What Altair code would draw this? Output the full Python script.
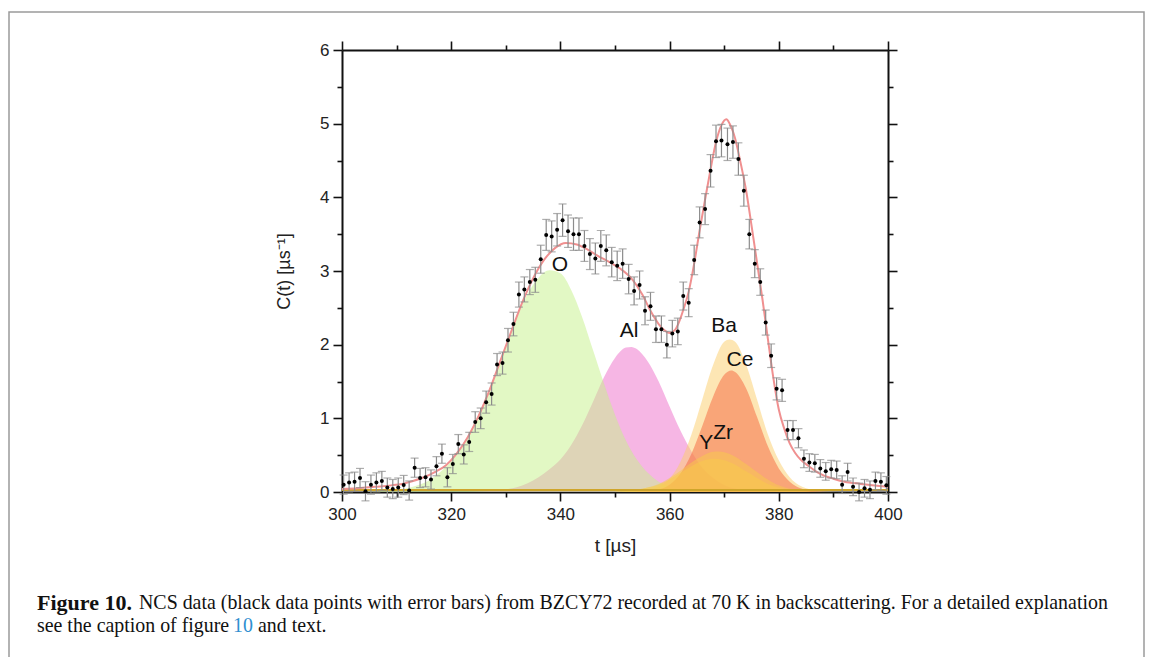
import altair as alt
import pandas as pd

# ---------------- data ----------------
t_data = [300.3, 301.3, 302.3, 303.3, 304.3, 305.3, 306.3, 307.3, 308.3, 309.3,
          310.3, 311.3, 312.3, 313.3, 314.3, 315.3, 316.3, 317.3, 318.3, 319.3,
          320.3, 321.3, 322.3, 323.3, 324.4, 325.4, 326.4, 327.4, 328.4, 329.4,
          330.4, 331.4, 332.4, 333.4, 334.4, 335.4, 336.4, 337.4, 338.4, 339.4,
          340.4, 341.4, 342.4, 343.4, 344.4, 345.4, 346.4, 347.4, 348.4, 349.4,
          350.4, 351.4, 352.5, 353.5, 354.5, 355.5, 356.5, 357.5, 358.5, 359.5,
          360.5, 361.5, 362.5, 363.5, 364.5, 365.5, 366.5, 367.5, 368.5, 369.5,
          370.6, 371.6, 372.6, 373.6, 374.6, 375.6, 376.6, 377.6, 378.6, 379.6,
          380.6, 381.6, 382.6, 383.6, 384.6, 385.6, 386.6, 387.6, 388.6, 389.6,
          390.6, 391.6, 392.6, 393.6, 394.7, 395.7, 396.7, 397.7, 398.7, 399.7]
c_data = [0.10, 0.13, 0.14, 0.19, 0.01, 0.10, 0.13, 0.15, 0.06, 0.04,
          0.06, 0.095, 0.02, 0.33, 0.19, 0.20, 0.17, 0.35, 0.52, 0.20,
          0.38, 0.65, 0.51, 0.68, 0.95, 1.00, 1.22, 1.33, 1.73, 1.75,
          2.06, 2.28, 2.68, 2.75, 2.85, 2.88, 3.16, 3.49, 3.47, 3.56,
          3.69, 3.54, 3.50, 3.50, 3.34, 3.23, 3.17, 3.34, 3.28, 3.12,
          3.07, 3.10, 2.89, 2.73, 2.81, 2.46, 2.52, 2.21, 2.21, 2.00,
          2.15, 2.18, 2.66, 2.57, 3.15, 3.66, 3.84, 4.36, 4.76, 4.77,
          4.72, 4.75, 4.52, 4.09, 3.50, 3.10, 2.85, 2.30, 1.85, 1.40,
          1.38, 0.84, 0.84, 0.73, 0.45, 0.40, 0.39, 0.32, 0.28, 0.31,
          0.30, 0.10, 0.27, 0.07, 0.00, 0.05, 0.03, 0.15, 0.14, 0.09]
err_data = [0.13] * 24 + \
    [0.14, 0.14, 0.15, 0.15, 0.15, 0.15, 0.16, 0.16] + \
    [0.17, 0.17, 0.17, 0.17] + \
    [0.19, 0.21, 0.21, 0.22, 0.22, 0.22, 0.22, 0.22, 0.21, 0.21, 0.21, 0.21, 0.21, 0.20, 0.20, 0.20] + \
    [0.20, 0.19, 0.19, 0.19, 0.19, 0.18, 0.18, 0.18, 0.18, 0.18, 0.19, 0.19] + \
    [0.20, 0.21, 0.21, 0.22, 0.22, 0.22, 0.22, 0.22, 0.22, 0.21, 0.20, 0.19, 0.18, 0.17] + \
    [0.16, 0.15, 0.15, 0.13, 0.13, 0.13] + \
    [0.12] * 16

fit_t = [300, 303, 306, 309, 311, 313, 315, 317, 319, 321, 323, 325, 327, 329, 331, 333,
         335, 337, 339, 341, 343, 345, 347, 349, 351, 353, 355, 356.5, 358, 359, 360, 361,
         362, 362.5, 363.5, 364.5, 365.5, 366.5, 367.5, 368.5, 369.5, 370.4, 371, 372, 373,
         374, 375, 376, 377, 378, 379, 380, 381, 382, 383, 384, 385.5, 387.5, 390, 392, 395, 400]
fit_c = [0.04, 0.05, 0.07, 0.09, 0.11, 0.15, 0.20, 0.27, 0.36, 0.52, 0.74, 1.03, 1.38, 1.78, 2.18, 2.57,
         2.90, 3.15, 3.31, 3.38, 3.36, 3.29, 3.20, 3.12, 3.03, 2.90, 2.68, 2.46, 2.28, 2.20, 2.16, 2.20,
         2.36, 2.47, 2.72, 3.10, 3.55, 3.97, 4.38, 4.75, 4.98, 5.06, 5.00, 4.80, 4.47,
         4.10, 3.62, 3.12, 2.62, 2.08, 1.55, 1.12, 0.86, 0.66, 0.53, 0.44, 0.35, 0.25, 0.18, 0.14, 0.11, 0.07]

o_t = [304, 306, 308, 310, 312, 314, 316, 318, 320, 322, 324, 326, 328, 330, 332, 334, 336,
       338, 340, 342, 344, 346, 348, 350, 352, 354, 356, 358, 360, 362, 364, 366, 368]
o_c = [0.005, 0.01, 0.018, 0.03, 0.052, 0.094, 0.16, 0.27, 0.42, 0.63, 0.90, 1.22, 1.60, 1.99, 2.37, 2.69, 2.91,
       3.01, 2.97, 2.74, 2.37, 1.92, 1.47, 1.05, 0.70, 0.44, 0.26, 0.14, 0.075, 0.036, 0.016, 0.007, 0.0]

al_t = [322, 324, 326, 328, 330, 332, 334, 336, 338, 340, 342, 344, 346, 348, 350, 352, 353,
        354, 356, 358, 360, 362, 364, 366, 368, 370, 372, 374, 376, 378, 380]
al_c = [0.0, 0.005, 0.01, 0.02, 0.035, 0.065, 0.12, 0.20, 0.31, 0.44, 0.64, 0.91, 1.23, 1.56, 1.82, 1.96, 1.97,
        1.94, 1.77, 1.50, 1.16, 0.83, 0.55, 0.33, 0.19, 0.096, 0.046, 0.02, 0.008, 0.003, 0.0]

ba_t = [350, 352, 354, 356, 358, 360, 362, 364, 366, 368, 370, 371, 372, 374, 376, 378, 380, 382, 384, 386, 388, 390, 392]
ba_c = [0.0, 0.005, 0.01, 0.023, 0.07, 0.18, 0.41, 0.78, 1.26, 1.73, 2.04, 2.07, 2.04, 1.73, 1.26, 0.78, 0.43, 0.20, 0.08, 0.03, 0.01, 0.003, 0.0]

ce_t = [352, 354, 356, 358, 360, 362, 364, 366, 368, 370, 371.3, 372, 374, 376, 378, 380, 382, 384, 386, 388, 390]
ce_c = [0.0, 0.005, 0.012, 0.035, 0.10, 0.25, 0.52, 0.90, 1.30, 1.59, 1.65, 1.63, 1.41, 1.02, 0.62, 0.32, 0.14, 0.05, 0.015, 0.004, 0.0]

y_t = [350, 352, 354, 356, 358, 360, 362, 364, 366, 368, 370, 372, 374, 376, 378, 380, 382, 384, 386, 388]
y_c = [0.005, 0.012, 0.03, 0.06, 0.10, 0.17, 0.26, 0.35, 0.42, 0.45, 0.43, 0.37, 0.28, 0.19, 0.11, 0.06, 0.025, 0.01, 0.003, 0.0]

zr_t = [350, 352, 354, 356, 358, 360, 362, 364, 366, 368, 369, 370, 372, 374, 376, 378, 380, 382, 384, 386, 388]
zr_c = [0.005, 0.012, 0.03, 0.06, 0.11, 0.19, 0.29, 0.40, 0.49, 0.545, 0.55, 0.54, 0.48, 0.38, 0.27, 0.17, 0.09, 0.045, 0.02, 0.008, 0.0]

label_names = ["O", "Al", "Ba", "Ce", "Y", "Zr"]
label_t = [339.9, 352.6, 370.0, 372.9, 366.7, 369.8]
label_c = [3.08, 2.18, 2.25, 1.79, 0.67, 0.80]

x_ticks = [300, 310, 320, 330, 340, 350, 360, 370, 380, 390, 400]
y_ticks = [0, 0.5, 1, 1.5, 2, 2.5, 3, 3.5, 4, 4.5, 5, 5.5, 6]

caption_bold = "Figure 10."
caption_line1 = "NCS data (black data points with error bars) from BZCY72 recorded at 70 K in backscattering. For a detailed explanation"
caption_line2a = "see the caption of figure"
caption_link = "10"
caption_line2b = "and text."

# ---------------- tables ----------------
pts = pd.DataFrame({"t": t_data, "c": c_data, "e": err_data})
pts["lo"] = pts["c"] - pts["e"]
pts["hi"] = pts["c"] + pts["e"]
fit = pd.DataFrame({"t": fit_t, "c": fit_c})
labels = pd.DataFrame({"name": label_names, "t": label_t, "c": label_c})
one = pd.DataFrame({"a": [0]})

xs = alt.Scale(domain=[300, 400], nice=False, zero=False)
ys = alt.Scale(domain=[0, 6], nice=False, zero=False)

FONT = "Liberation Sans"
major_x = {"condition": {"test": "datum.value % 20 == 0", "value": 9}, "value": 5}
major_y = {"condition": {"test": "datum.value % 1 == 0", "value": 9}, "value": 5}

common_axis = dict(domainColor="#111", domainWidth=2, tickColor="#111", tickWidth=1.6,
                   grid=False, labelFont=FONT, labelFontSize=17, labelColor="#222",
                   titleFont=FONT, titleFontWeight="normal", titleColor="#222", labelFlush=False,
                   labelOverlap=False)

x_main = alt.Axis(values=x_ticks, orient="bottom", tickSize=major_x,
                  labelExpr="datum.value % 20 == 0 ? datum.label : ''",
                  labelPadding=5, title="t [µs]", titleFontSize=19, titlePadding=14, **common_axis)
y_main = alt.Axis(values=y_ticks, orient="left", tickSize=major_y,
                  labelExpr="datum.value % 1 == 0 ? format(datum.value, 'd') : ''",
                  labelPadding=4, title="C(t) [µs⁻¹]", titleFontSize=18, titlePadding=26, **common_axis)
x_top = alt.Axis(values=x_ticks, orient="top", tickSize=major_x, labels=False, title=None,
                 domainColor="#111", domainWidth=2, tickColor="#111", tickWidth=1.6, grid=False)
y_right = alt.Axis(values=y_ticks, orient="right", tickSize=major_y, labels=False, title=None,
                   domainColor="#111", domainWidth=2, tickColor="#111", tickWidth=1.6, grid=False)


def comp_area(tv, cv, color):
    df = pd.DataFrame({"t": tv, "c": cv})
    return alt.Chart(df).mark_area(color=color, opacity=0.5, interpolate="monotone").encode(
        x=alt.X("t:Q", scale=xs, axis=None),
        y=alt.Y("c:Q", scale=ys, axis=None),
    )


al_area = comp_area(al_t, al_c, "#ed6dc9")
o_area = comp_area(o_t, o_c, "#c5f189")
ba_area = comp_area(ba_t, ba_c, "#fbcd69")
ce_area = comp_area(ce_t, ce_c, "#f5643c")
y_area = comp_area(y_t, y_c, "#f7cc4a")
zr_area = comp_area(zr_t, zr_c, "#f7cc4a")

base_line = alt.Chart(one).mark_rule(color="#cfa52a", strokeWidth=2, yOffset=-2).encode(
    x=alt.datum(300, scale=xs, axis=None), x2=alt.datum(400),
    y=alt.datum(0, scale=ys, axis=None))

fit_line = alt.Chart(fit).mark_line(color="#f09090", strokeWidth=2, interpolate="monotone").encode(
    x=alt.X("t:Q", scale=xs, axis=x_top),
    y=alt.Y("c:Q", scale=ys, axis=y_right),
)

err_rule = alt.Chart(pts).mark_rule(color="#8c8c8c", strokeWidth=1.2).encode(
    x=alt.X("t:Q", scale=xs, axis=None),
    y=alt.Y("lo:Q", scale=ys, axis=None), y2="hi:Q")
cap_lo = alt.Chart(pts).mark_tick(color="#8c8c8c", orient="horizontal", size=8, thickness=1.2).encode(
    x=alt.X("t:Q", scale=xs, axis=None), y=alt.Y("lo:Q", scale=ys, axis=None))
cap_hi = alt.Chart(pts).mark_tick(color="#8c8c8c", orient="horizontal", size=8, thickness=1.2).encode(
    x=alt.X("t:Q", scale=xs, axis=None), y=alt.Y("hi:Q", scale=ys, axis=None))

points = alt.Chart(pts).mark_circle(color="#000", size=16, opacity=1).encode(
    x=alt.X("t:Q", scale=xs, axis=x_main),
    y=alt.Y("c:Q", scale=ys, axis=y_main),
)

label_text = alt.Chart(labels).mark_text(font=FONT, fontSize=21, color="#111",
                                         align="center", baseline="middle").encode(
    x=alt.X("t:Q", scale=xs, axis=None), y=alt.Y("c:Q", scale=ys, axis=None), text="name:N")

frame = alt.Chart(one).mark_rect(fillOpacity=0, stroke="#9a9a9a", strokeWidth=1.5).encode(
    x=alt.value(-333), x2=alt.value(802), y=alt.value(-38), y2=alt.value(640))

SERIF = "Liberation Serif"
CAP = 19.9
cap1 = alt.Chart(one).mark_text(text=caption_bold, font=SERIF, fontSize=22, fontWeight="bold",
                                align="left", baseline="middle", color="#111").encode(
    x=alt.value(-305), y=alt.value(553))
cap2 = alt.Chart(one).mark_text(text=caption_line1, font=SERIF, fontSize=CAP,
                                align="left", baseline="middle", color="#111").encode(
    x=alt.value(-203), y=alt.value(553))
cap3 = alt.Chart(one).mark_text(text=caption_line2a, font=SERIF, fontSize=CAP,
                                align="left", baseline="middle", color="#111").encode(
    x=alt.value(-305), y=alt.value(576))
cap4 = alt.Chart(one).mark_text(text=caption_link, font=SERIF, fontSize=CAP,
                                align="left", baseline="middle", color="#2f8fd0").encode(
    x=alt.value(-109), y=alt.value(576))
cap5 = alt.Chart(one).mark_text(text=caption_line2b, font=SERIF, fontSize=CAP,
                                align="left", baseline="middle", color="#111").encode(
    x=alt.value(-84), y=alt.value(576))

chart = alt.layer(
    al_area, o_area, ba_area, ce_area, y_area, zr_area, base_line,
    fit_line, err_rule, cap_lo, cap_hi, points, label_text,
    frame, cap1, cap2, cap3, cap4, cap5,
).resolve_axis(x="independent", y="independent").properties(
    width=546, height=442,
    autosize=alt.AutoSizeParams(type="none"),
    padding={"left": 342, "top": 50, "right": 265, "bottom": 165},
).configure_view(stroke=None).configure(background="white")

chart.save("out.html", embed_options={"renderer": "svg", "actions": False})
